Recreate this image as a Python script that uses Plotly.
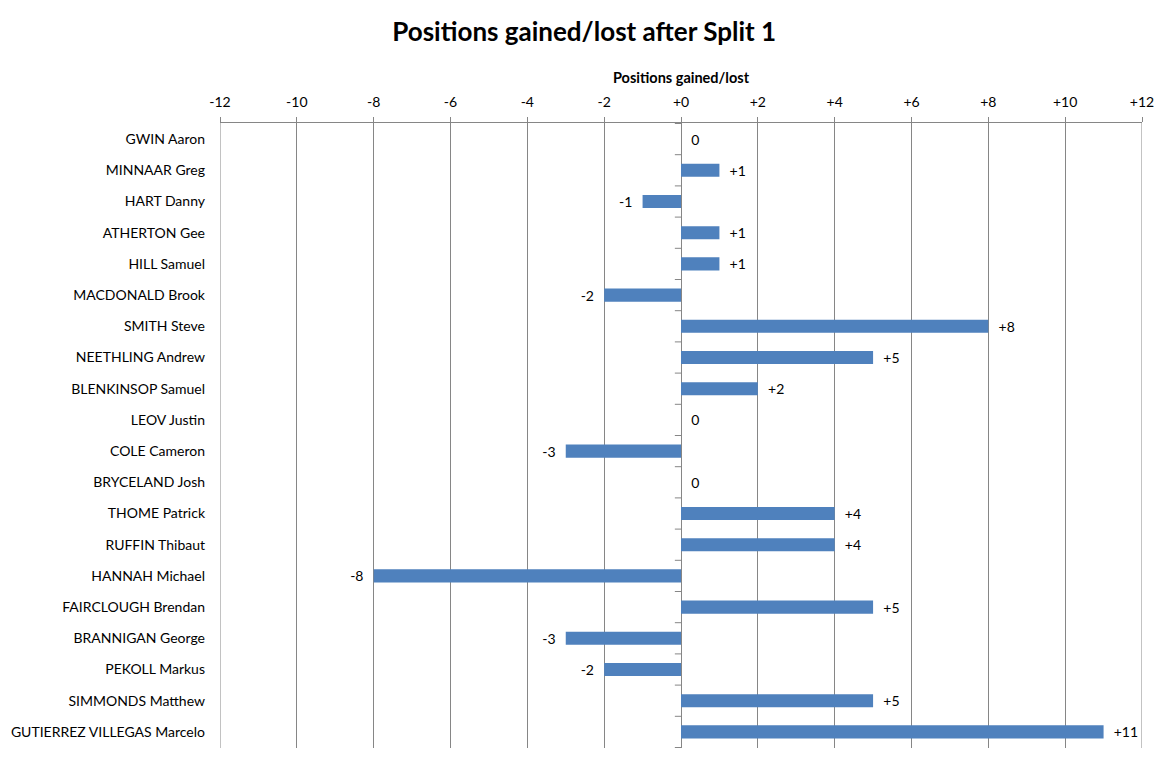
import plotly.graph_objects as go

riders = ["GWIN Aaron", "MINNAAR Greg", "HART Danny", "ATHERTON Gee", "HILL Samuel",
          "MACDONALD Brook", "SMITH Steve", "NEETHLING Andrew", "BLENKINSOP Samuel",
          "LEOV Justin", "COLE Cameron", "BRYCELAND Josh", "THOME Patrick",
          "RUFFIN Thibaut", "HANNAH Michael", "FAIRCLOUGH Brendan", "BRANNIGAN George",
          "PEKOLL Markus", "SIMMONDS Matthew", "GUTIERREZ VILLEGAS Marcelo"]
change = [0, 1, -1, 1, 1, -2, 8, 5, 2, 0, -3, 0, 4, 4, -8, 5, -3, -2, 5, 11]
tick_vals = [-12, -10, -8, -6, -4, -2, 0, 2, 4, 6, 8, 10, 12]
tick_text = ["-12", "-10", "-8", "-6", "-4", "-2", "+0", "+2", "+4", "+6", "+8", "+10", "+12"]

def fmt(v):
    if v == 0:
        return "  0"
    if v > 0:
        return f"  {v:+d}"
    return f"{v:+d}  "

labels = [fmt(v) for v in change]
FONT = "Lato, Calibri, Carlito, sans-serif"
GRID = "#868686"

fig = go.Figure(go.Bar(
    x=change, y=riders, orientation="h",
    marker=dict(color="#4F81BD", line=dict(width=0)),
    text=labels, textposition="outside", cliponaxis=False, constraintext="none",
    textfont=dict(family=FONT, size=14, color="#000000"),
    width=0.42,
))

fig.update_layout(
    width=1164, height=758,
    paper_bgcolor="white", plot_bgcolor="white",
    margin=dict(l=212, r=30, t=115, b=18, autoexpand=False),
    title=dict(text="<b>Positions gained/lost after Split 1</b>", x=0.495, xanchor="center",
               y=0.968, yanchor="middle", font=dict(family=FONT, size=26, color="#000000")),
    font=dict(family=FONT, size=14, color="#000000"),
    showlegend=False,
    uniformtext=dict(minsize=14, mode="show"),
)
fig.update_xaxes(
    side="top", range=[tick_vals[0], tick_vals[-1]], tickvals=tick_vals, ticktext=tick_text,
    showgrid=True, gridcolor=GRID, gridwidth=1,
    showline=True, linecolor=GRID, linewidth=1,
    ticks="outside", ticklen=5, tickcolor=GRID,
    zeroline=True, zerolinecolor=GRID, zerolinewidth=1,
    tickfont=dict(family=FONT, size=14), ticklabelstandoff=4,
    title=dict(text="<b>Positions gained/lost</b>", font=dict(family=FONT, size=14.5), standoff=6),
    automargin=False, fixedrange=True,
)
fig.update_yaxes(
    autorange="reversed", showgrid=False, showline=False, ticks="",
    tickfont=dict(family=FONT, size=14), ticklabelstandoff=14,
    automargin=False, fixedrange=True,
)

shapes = []
# edge gridlines of the value axis
for xv in (tick_vals[0], tick_vals[-1]):
    shapes.append(dict(type="line", xref="x", yref="paper", x0=xv, x1=xv, y0=0, y1=1,
                       line=dict(color=GRID, width=1), layer="below"))
# boundary tick marks pointing left of zero axis
for i in range(len(riders) + 1):
    shapes.append(dict(type="line", xref="x", yref="y", x0=-0.16, x1=0,
                       y0=i - 0.5, y1=i - 0.5, line=dict(color=GRID, width=1),
                       layer="below"))
fig.update_layout(shapes=shapes)

fig.write_html("out.html")
